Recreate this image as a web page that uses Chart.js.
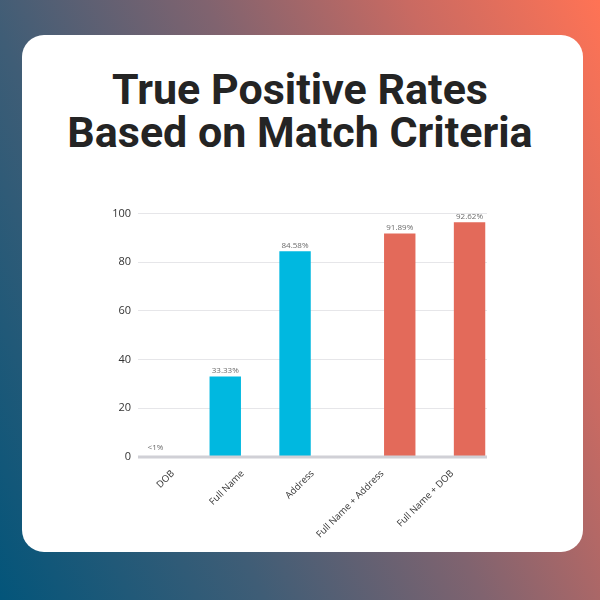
<!DOCTYPE html>
<html>
<head>
<meta charset="utf-8">
<script src="https://cdn.jsdelivr.net/npm/chart.js@4"></script>
<style>
  html, body { margin: 0; padding: 0; }
  body {
    width: 600px; height: 600px; overflow: hidden; position: relative;
    background: linear-gradient(65deg, #03557a 0%, #3f5d76 30%, #80636f 55%, #c96a62 78%, #ff7355 100%);
  }
  .card {
    position: absolute; left: 22px; top: 35px; width: 561px; height: 517px;
    background: #fff; border-radius: 22px;
  }
  h1 {
    position: absolute; left: 0; top: 68px; width: 600px; margin: 0;
    text-align: center; font-family: Roboto, sans-serif; font-weight: 700;
    font-size: 43px; line-height: 43px; color: #242424;
  }
  .chart-box { position: absolute; left: 90px; top: 200px; width: 410px; height: 346px; }
</style>
</head>
<body>
<div class="card"></div>
<h1>True Positive Rates<br>Based on Match Criteria</h1>
<div class="chart-box"><canvas id="rateChart"></canvas></div>
<script>
const categories = ['DOB', 'Full Name', 'Address', 'Full Name + Address', 'Full Name + DOB'];
// single-criterion bars (blue) and combined-criteria bars (red)
const singleValues = [0.4, 33.1, 84.5, null, null];
const comboValues = [null, null, null, 91.8, 96.4];
const singleLabels = ['<1%', '33.33%', '84.58%', '', ''];
const comboLabels = ['', '', '', '91.89%', '92.62%'];
const yTicks = [0, 20, 40, 60, 80, 100];

// value text above each bar, plus the grey zero line drawn over the bars
const valueLabels = {
  id: 'valueLabels',
  afterDatasetsDraw(chart) {
    const ctx = chart.ctx;
    const area = chart.chartArea;
    const y0 = chart.scales.y.getPixelForValue(0);
    ctx.save();
    ctx.strokeStyle = '#d0d0d6';
    ctx.lineWidth = 3;
    ctx.beginPath();
    ctx.moveTo(area.left, y0);
    ctx.lineTo(area.right, y0);
    ctx.stroke();

    const texts = [singleLabels, comboLabels];
    ctx.font = '8px "Open Sans", sans-serif';
    ctx.fillStyle = '#6b6b6b';
    ctx.textAlign = 'center';
    ctx.textBaseline = 'bottom';
    chart.data.datasets.forEach((ds, i) => {
      chart.getDatasetMeta(i).data.forEach((bar, j) => {
        const t = texts[i][j];
        if (t && ds.data[j] != null) ctx.fillText(t, bar.x, Math.min(bar.y, y0 - 3) - 2);
      });
    });
    ctx.restore();
  }
};

new Chart(document.getElementById('rateChart'), {
  type: 'bar',
  data: {
    labels: categories,
    datasets: [
      { data: singleValues, backgroundColor: '#00b8e0' },
      { data: comboValues, backgroundColor: '#e36a5a' }
    ]
  },
  options: {
    responsive: true,
    maintainAspectRatio: false,
    animation: false,
    categoryPercentage: 1.0,
    barPercentage: 0.9,
    layout: { padding: { top: 10, right: 13, left: 0, bottom: 0 } },
    plugins: { legend: { display: false }, tooltip: { enabled: false } },
    scales: {
      x: {
        afterFit: s => { s.height = 89; },
        grid: { display: false },
        border: { display: false },
        ticks: {
          color: '#333',
          font: { family: '"Open Sans", sans-serif', size: 9.5 },
          minRotation: 45, maxRotation: 45, padding: 3
        }
      },
      y: {
        min: 0, max: 100,
        afterFit: s => { s.width = 48; },
        afterBuildTicks: s => { s.ticks = yTicks.map(v => ({ value: v })); },
        border: { display: false },
        grid: { drawTicks: false, color: '#e6e6e9', lineWidth: 1 },
        ticks: {
          color: '#333',
          font: { family: '"Open Sans", sans-serif', size: 11 },
          padding: 7
        }
      }
    }
  },
  plugins: [valueLabels]
});
</script>
</body>
</html>
